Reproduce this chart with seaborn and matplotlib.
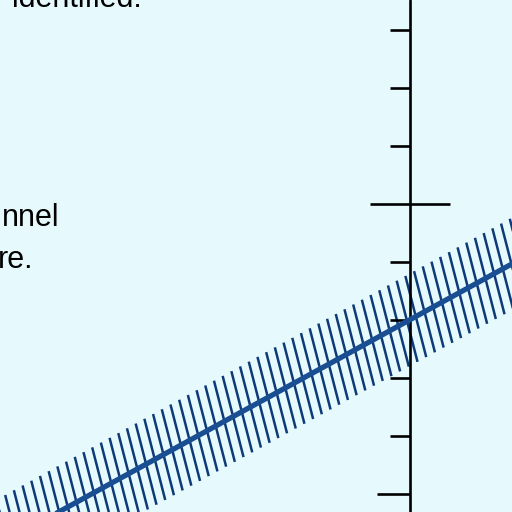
import numpy as np
import pandas as pd
import matplotlib
matplotlib.use("Agg")
import matplotlib.pyplot as plt
import seaborn as sns
from matplotlib.collections import LineCollection

# values (1 unit = one tick step)
line_x = [-7.5, 2.0]
line_y = [-6.1, -0.9]
tick_vals = [3, 2, 1, 0, -1, -2, -3, -4, -5]
text_lines = ["identified.", "nnel", "re."]

BG = "#e6fafd"
LINE_COL = "#1a4e92"
HATCH_COL = "#0f3a78"

sns.set_theme(style="white")
plt.rcParams['font.family'] = ['Liberation Sans', 'DejaVu Sans']

fig = plt.figure(figsize=(5.12, 5.12), dpi=100)
fig.patch.set_facecolor(BG)
ax = fig.add_axes([0, 0, 1, 1])
ax.set_facecolor(BG)
ax.set_xlim(-410 / 58, 102 / 58)
ax.set_ylim((204 - 512) / 58, 204 / 58)

# hatched uncertainty band along the line
xs = np.arange(-7.4, 2.0, 0.15)
ys = np.interp(xs, line_x, line_y)
segs = [[(x - 0.18, y + 0.70), (x + 0.18, y - 0.70)] for x, y in zip(xs, ys)]
ax.add_collection(LineCollection(segs, colors=HATCH_COL, linewidths=1.8, zorder=2))

# axis with ticks
ax.axvline(0, color="black", lw=1.9, zorder=3)
short = [t for t in tick_vals if t not in (0, tick_vals[-1])]
ax.hlines(short, -0.34, 0, color="black", lw=1.9, zorder=3)
ax.hlines([0], -0.69, 0.69, color="black", lw=1.9, zorder=3)
ax.hlines([tick_vals[-1]], -0.57, 0, color="black", lw=1.9, zorder=3)

df = pd.DataFrame({"x": line_x, "y": line_y})
sns.lineplot(data=df, x="x", y="y", color=LINE_COL, lw=3.8, ax=ax, zorder=4)

# partly cropped text on the left
ax.text(-4.62, 3.39, text_lines[0], ha="right", va="baseline", fontsize=22, color="black")
ax.text(-7.04, -0.38, text_lines[1], ha="left", va="baseline", fontsize=22, color="black")
ax.text(-7.10, -1.10, text_lines[2], ha="left", va="baseline", fontsize=22, color="black")

ax.set_xlabel("")
ax.set_ylabel("")
ax.set_xticks([])
ax.set_yticks([])
for s in ax.spines.values():
    s.set_visible(False)

fig.savefig("out.png", dpi=100, facecolor=BG)
